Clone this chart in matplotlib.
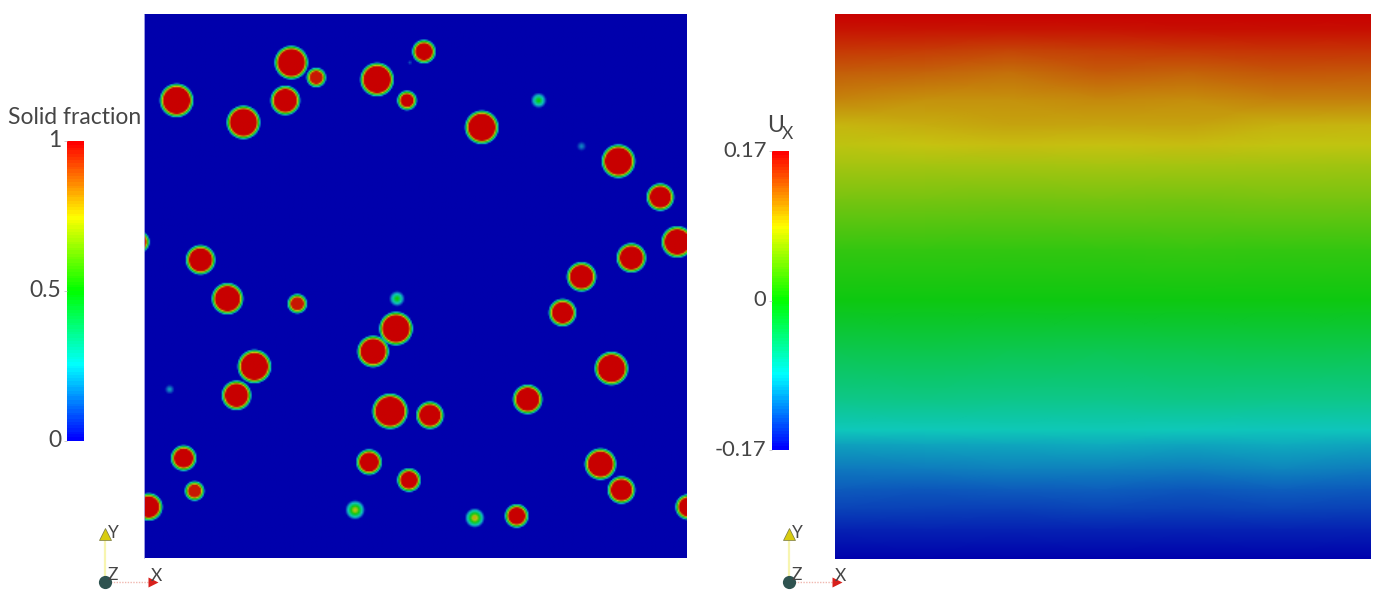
import numpy as np
import matplotlib
matplotlib.use("Agg")
import matplotlib.pyplot as plt
from matplotlib.colors import LinearSegmentedColormap
from matplotlib.transforms import ScaledTranslation

W, H = 1379, 595
TXT = "#454545"
plt.rcParams['font.family'] = ['Lato', 'DejaVu Sans']

# --- left panel: solid-fraction blobs (centre x, centre y, outer radius, peak fraction)
blob_x = [291, 316, 424, 377, 407, 176, 285, 243, 482, 539, 582, 410, 619, 661, 678, 632, 582, 563, 612,
          138, 200, 227, 297, 397, 396, 373, 254, 236, 169, 390, 430, 528, 183, 369, 601, 622, 409, 194,
          148, 355, 475, 517, 689]
blob_y = [62, 77, 51, 79, 100, 100, 100, 122, 127, 100, 146, 62, 161, 197, 242, 258, 277, 313, 369,
          242, 260, 299, 304, 299, 329, 352, 367, 396, 390, 412, 416, 400, 459, 463, 465, 491, 481, 492,
          508, 511, 519, 517, 508]
blob_r = [17.5, 10.5, 12.5, 17.5, 10.5, 17.5, 15.5, 17.5, 17.5, 8, 5, 2.5, 17.5, 14.5, 16.5, 15.5, 15.5, 14.5, 17.5,
          11.5, 15.5, 16.5, 10.5, 8, 17.5, 16.5, 17.5, 15.5, 5, 18.5, 14.5, 15.5, 13.5, 13.5, 16.5, 14.5, 12.5, 10.5,
          14.5, 10, 10, 12.5, 13.5]
blob_peak = [1, .97, 1, 1, 1, 1, 1, 1, 1, .5, .17, .1, 1, 1, 1, 1, 1, 1, 1,
             1, 1, 1, .97, .5, 1, 1, 1, 1, .2, 1, 1, 1, 1, 1, 1, 1, 1, .97,
             1, .72, .78, 1, 1]

# --- right panel: Ux at sampled stations
ux_x = [835, 925, 1010, 1100, 1190, 1280, 1371]
ux_y = [14, 30, 50, 72, 100, 125, 145, 165, 200, 250, 300, 350, 400, 430, 445, 470, 490, 510, 530, 559]
ux_vals = [
    [.170, .170, .170, .170, .170, .170, .170],
    [.162, .162, .161, .162, .163, .164, .164],
    [.147, .146, .142, .145, .147, .149, .149],
    [.132, .129, .124, .133, .130, .135, .134],
    [.114, .108, .108, .112, .110, .116, .116],
    [.091, .095, .100, .099, .100, .093, .092],
    [.081, .085, .088, .086, .088, .083, .082],
    [.069, .069, .069, .070, .069, .068, .067],
    [.047, .046, .045, .046, .045, .047, .046],
    [.017, .017, .016, .017, .018, .017, .017],
    [.000, .000, .000, .000, .000, .000, .000],
    [-.029, -.027, -.029, -.030, -.029, -.028, -.029],
    [-.058, -.056, -.058, -.059, -.057, -.058, -.058],
    [-.085, -.084, -.083, -.082, -.084, -.086, -.086],
    [-.102, -.100, -.099, -.097, -.100, -.097, -.100],
    [-.119, -.118, -.115, -.116, -.118, -.114, -.118],
    [-.131, -.133, -.131, -.130, -.133, -.130, -.132],
    [-.142, -.143, -.144, -.141, -.143, -.141, -.143],
    [-.156, -.155, -.156, -.155, -.156, -.155, -.156],
    [-.170, -.170, -.170, -.170, -.170, -.170, -.170],
]

sf_ticks = [0, 0.5, 1]
sf_labels = ["0", "0.5", "1"]
ux_ticks = [-0.17, 0, 0.17]
ux_labels = ["-0.17", "0", "0.17"]

# rainbow as rendered on the lit surfaces, and as in the scalar bars
surface = LinearSegmentedColormap.from_list("surface", [
    (0.0, (0/255, 0/255, 172/255)), (0.125, (14/255, 100/255, 190/255)),
    (0.25, (14/255, 200/255, 188/255)), (0.375, (12/255, 198/255, 108/255)),
    (0.5, (12/255, 200/255, 16/255)), (0.625, (110/255, 196/255, 16/255)),
    (0.75, (198/255, 196/255, 16/255)), (0.875, (196/255, 104/255, 10/255)),
    (1.0, (200/255, 0/255, 0/255))], N=512)
bright = LinearSegmentedColormap.from_list("bright", [
    (0.0, "#0000ff"), (0.25, "#00ffff"), (0.5, "#00ff00"), (0.75, "#ffff00"), (1.0, "#ff0000")], N=96)


def px_axes(fig, x0, y0, x1, y1, **kw):
    return fig.add_axes([x0 / W, 1 - y1 / H, (x1 - x0) / W, (y1 - y0) / H], **kw)


fig = plt.figure(figsize=(W / 100, H / 100), dpi=100, facecolor="white")

# Solid fraction field
axL = px_axes(fig, 144, 14, 687, 558)
gx = np.arange(144, 688, 1.5)
gy = np.arange(14, 559, 1.5)
XX, YY = np.meshgrid(gx, gy)
field = np.zeros_like(XX)
for bx, by, br, bp in zip(blob_x, blob_y, blob_r, blob_peak):
    width = 4.5 if bp > 0.9 else br * 0.85
    d = np.hypot(XX - bx, YY - by)
    field = np.maximum(field, bp * np.clip((br - d) / width, 0, 1))
axL.imshow(field, extent=(144, 687, 558, 14), cmap=surface, vmin=0, vmax=1,
           interpolation="bilinear", aspect="auto")
axL.set_xticks([]); axL.set_yticks([])
for s in axL.spines.values():
    s.set_visible(False)
axL.spines["left"].set_visible(True)
axL.spines["left"].set_color("#b9b9ec"); axL.spines["left"].set_linewidth(0.6)

# Ux field
axR = px_axes(fig, 835, 14, 1371, 559)
axR.pcolormesh(ux_x, ux_y, np.array(ux_vals), cmap=surface, vmin=-0.17, vmax=0.17,
               shading="gouraud", rasterized=True)
axR.set_xlim(835, 1371); axR.set_ylim(559, 14)
axR.set_xticks([]); axR.set_yticks([])
for s in axR.spines.values():
    s.set_visible(False)


def scalar_bar(x0, y0, x1, y1, vmin, vmax, ticks, labels, size, lift):
    ax = px_axes(fig, x0, y0, x1, y1)
    ax.imshow(np.linspace(vmin, vmax, 256)[:, None], extent=(0, 1, vmin, vmax), origin="lower",
              cmap=bright, vmin=vmin, vmax=vmax, aspect="auto", interpolation="nearest")
    ax.set_ylim(vmin, vmax)
    ax.set_xticks([])
    ax.set_yticks(ticks, labels)
    ax.tick_params(axis="y", length=2, width=0.5, color="#bbbbbb", pad=2, labelsize=size, labelcolor=TXT)
    shift = ScaledTranslation(0, lift / 100, fig.dpi_scale_trans)
    for lab in ax.get_yticklabels():
        lab.set_transform(lab.get_transform() + shift)
    for s in ax.spines.values():
        s.set_visible(False)
    return ax


scalar_bar(67, 141, 84, 441, 0, 1, sf_ticks, sf_labels, 16.5, 2.5)
scalar_bar(772, 151, 789, 450, -0.17, 0.17, ux_ticks, ux_labels, 15.8, 2)

# Overlay in figure pixels for titles and orientation triads
ov = fig.add_axes([0, 0, 1, 1], facecolor="none")
ov.set_xlim(0, W); ov.set_ylim(H, 0); ov.axis("off")
ov.text(8, 117, "Solid fraction", fontsize=16.5, color=TXT, va="center", ha="left")
ov.text(767, 126, "U", fontsize=16.5, color=TXT, va="center", ha="left")
ov.text(782, 134, "X", fontsize=12.5, color=TXT, va="center", ha="left")

for dx in (0, 684):
    ox, oy = 105 + dx, 582
    ov.plot([ox, ox + 46], [oy, oy], color="#f0b8b0", lw=1, ls=(0, (1, 1)))
    ov.plot([ox, ox], [oy, oy - 46], color="#f7f5b0", lw=1.6)
    ov.plot([ox + 48], [oy], marker=">", ms=7, color="#d8201c", mec="none")
    ov.plot([ox], [oy - 48], marker="^", ms=8, color="#d8cc10", mec="#777744", mew=0.5)
    ov.plot([ox], [oy], marker="o", ms=9.5, color="#2f5350", mec="none")
    ov.text(ox + 8, oy - 49, "Y", fontsize=12.5, color=TXT, va="center", ha="center")
    ov.text(ox + 8, oy - 7, "Z", fontsize=12.5, color=TXT, va="center", ha="center")
    ov.text(ox + 51, oy - 6, "X", fontsize=12.5, color=TXT, va="center", ha="center")

fig.savefig("out.png", dpi=100)
